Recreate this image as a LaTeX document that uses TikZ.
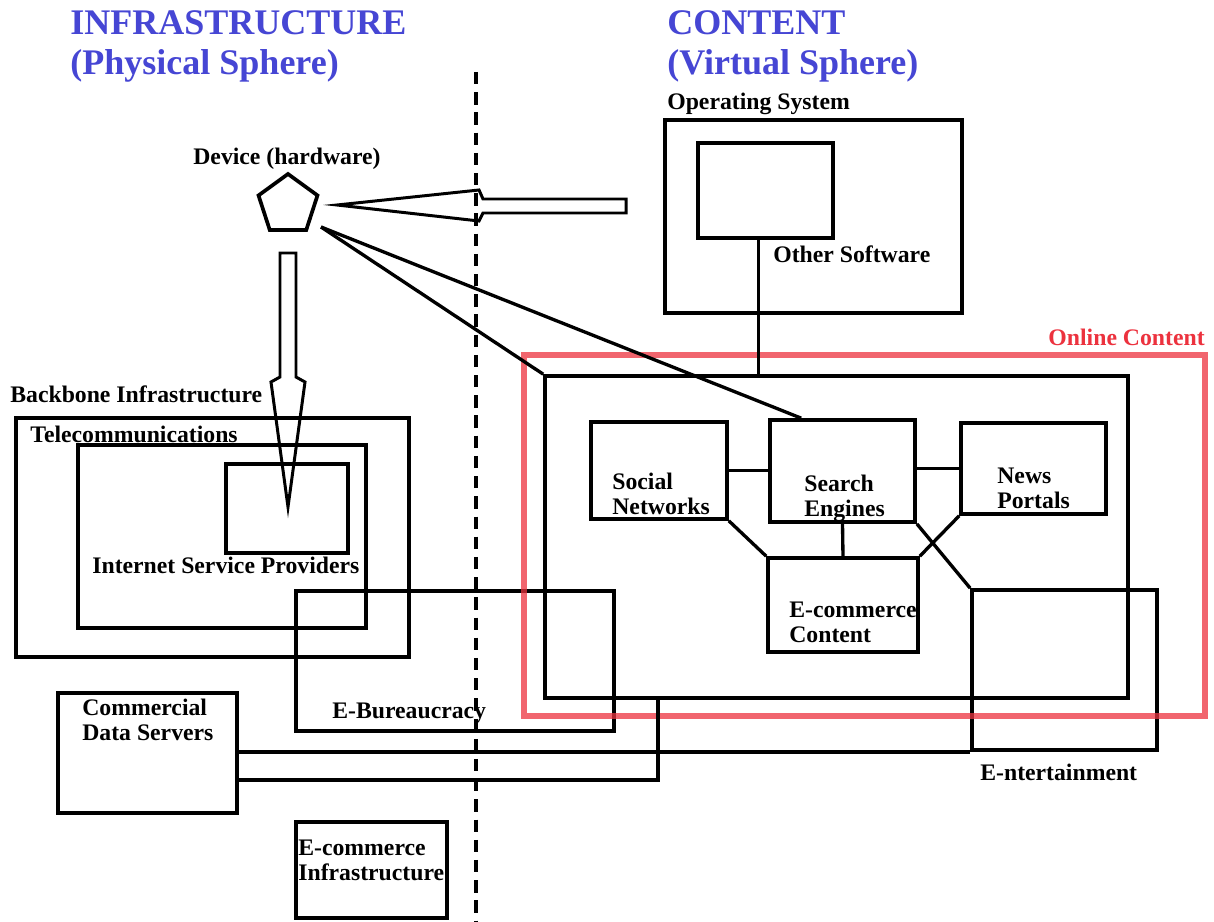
\documentclass[tikz,border=0pt]{standalone}
\usepackage{fontspec}
\setmainfont{Liberation Serif}
\usetikzlibrary{shapes.geometric,fit,calc}

\definecolor{sphereblue}{RGB}{70,70,212}
\definecolor{onlinered}{RGB}{236,50,62}

\tikzset{
  box/.style={draw, line width=2.1pt, inner sep=0pt},
  lbl/.style={font=\bfseries\fontsize{13.5}{14.2}\selectfont, inner sep=0pt,
    anchor=base west, align=left},
  sphere/.style={font=\bfseries\fontsize{20.5}{22.8}\selectfont, text=sphereblue,
    inner sep=0pt, anchor=base west, align=left},
  bigarrow/.style={draw, line width=1.7pt, line join=miter},
  link/.style={draw, line width=1.9pt},
  divider/.style={line width=1.8pt, dash pattern=on 7pt off 4.5pt}
}

\begin{document}
\begin{tikzpicture}[x=0.02cm, y=-0.02cm]
\useasboundingbox (0,0) rectangle (1214,922);

% the two spheres
\node[sphere] (infra) at (70,75) {INFRASTRUCTURE\\(Physical Sphere)};
\node[sphere] (cont) at (667,75) {CONTENT\\(Virtual Sphere)};
\draw[divider] (476,72) -- (476,922);

% device
\node[draw, regular polygon, regular polygon sides=5, minimum size=1.24cm,
    inner sep=0pt, line width=2.1pt] (dev) at (288,205) {};
\node[lbl] (devl) at (193,165) {Device (hardware)};
\coordinate (devout) at (321,227);

% operating system
\node[box, fit={(665,120) (962,313)}] (os) {};
\node[lbl] (osl) at (667,110) {Operating System};
\node[box, fit={(698,143) (833,238)}] (other) {};
\node[lbl] (otherl) at (773,263) {Other Software};

% infrastructure side
\node[box, fit={(16,418) (409,657)}] (backbone) {};
\node[lbl] (backbonel) at (10,402) {Backbone Infrastructure};
\node[box, fit={(78,445) (366,628)}] (telecom) {};
\node[lbl] (telecoml) at (30,442) {Telecommunications};
\node[box, fit={(226,464) (348,553)}] (isp) {};
\node[lbl] (ispl) at (92,573) {Internet Service Providers};
\node[box, fit={(58,693) (237,813)}] (cds) {};
\node[lbl] (cdsl) at (82,740) {Commercial\\Data Servers};
\node[box, fit={(296,822) (447,918)}] (ecinfra) {};
\node[lbl] (ecinfral) at (298,880) {E-commerce\\Infrastructure};
\node[box, fit={(296,591) (614,731)}] (ebur) {};
\node[lbl] (eburl) at (332,718) {E-Bureaucracy};

% content side
\node[box, fit={(545,376) (1128,698)}] (content) {};
\node[box, fit={(591,422) (727,519)}] (social) {};
\node[lbl] (sociall) at (612,514) {Social\\Networks};
\node[box, fit={(770,420) (915,522)}] (search) {};
\node[lbl] (searchl) at (804,516) {Search\\Engines};
\node[box, fit={(961,423) (1106,514)}] (news) {};
\node[lbl] (newsl) at (997,508) {News\\Portals};
\node[box, fit={(768,558) (918,652)}] (eccont) {};
\node[lbl] (eccontl) at (789,642) {E-commerce\\Content};
\node[box, fit={(972,590) (1157,750)}] (ent) {};
\node[lbl] (entl) at (980,780) {E-ntertainment};

% online content
\node[draw=onlinered, line width=3.6pt, opacity=0.75, inner sep=0pt,
    fit={(524,355) (1205,716)}] (online) {};
\node[lbl, anchor=base east, text=onlinered] (onlinel) at (1205,345) {Online Content};

% big arrows
\draw[bigarrow] (626,199) -- (626,213) -- (483,213) -- (479,221) -- (337,205)
  -- (479,190) -- (483,199) -- cycle;
\draw[bigarrow] (280,253) -- (296,253) -- (296,377) -- (305,382) -- (288,507)
  -- (271,382) -- (280,377) -- cycle;

% connectors
\draw[link] (devout) -- (content.north west);
\draw[link] (devout) -- ($(search.north west)+(33,0)$);
\coordinate (osdrop) at ($(other.south)+(-7,0)$);
\draw[link] (osdrop) -- (osdrop |- content.north);
\draw[link] (social.east) -- (social.east -| search.west);
\draw[link] (news.west -| search.east) -- (news.west);
\draw[link] (search.south) -- (eccont.north);
\draw[link] (social.south east) -- (eccont.north west);
\draw[link] (news.south west) -- (eccont.north east);
\draw[link] (search.south east) -- (ent.north west);
\draw[link] (ent.south west) -- (ent.south west -| cds.east);
\draw[link] ($(content.south west)+(115,0)$) |- ($(cds.east)+(0,27)$);
\end{tikzpicture}
\end{document}
